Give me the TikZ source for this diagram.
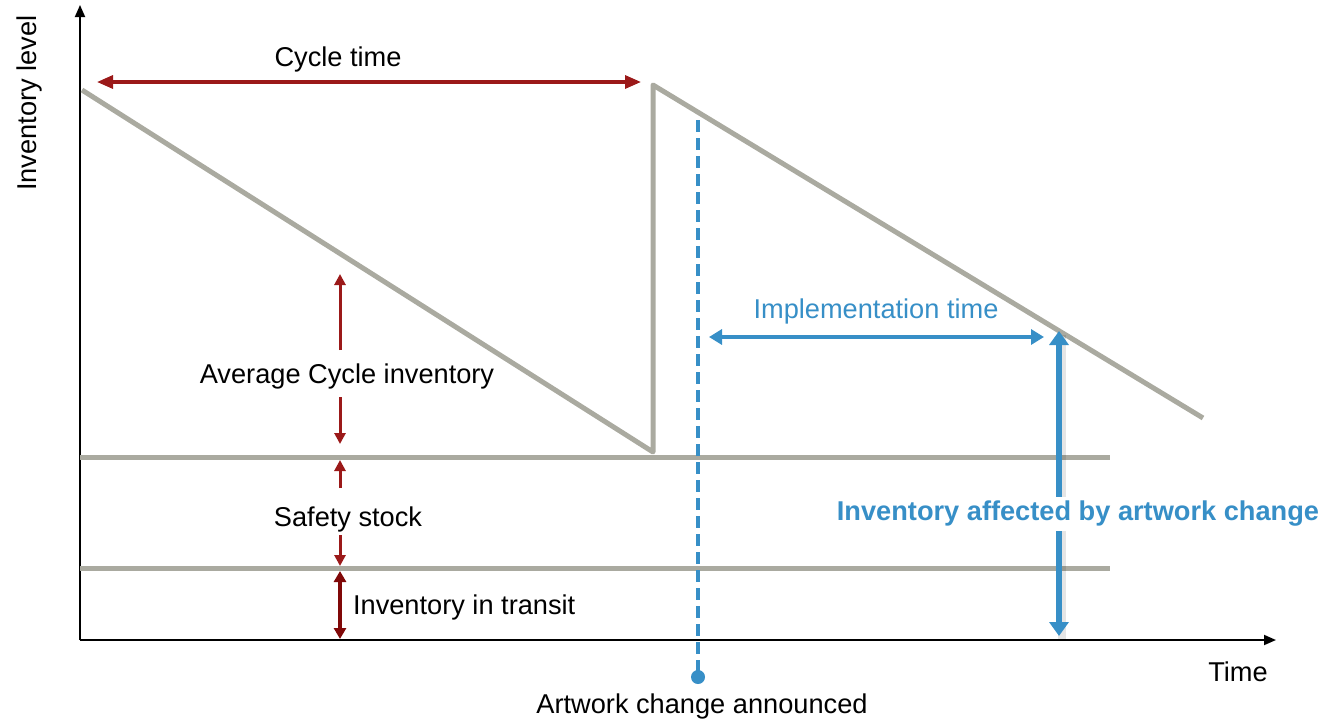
\documentclass[tikz,border=0pt]{standalone}
\usepackage{fontspec}
\setmainfont{Liberation Sans}
\usetikzlibrary{arrows.meta}
\definecolor{stockgray}{RGB}{170,170,160}
\definecolor{cyclered}{RGB}{155,25,25}
\definecolor{transitred}{RGB}{128,8,8}
\definecolor{artblue}{RGB}{55,143,199}
\tikzset{every node/.style={font=\fontsize{13.6pt}{16pt}\selectfont},
	axis/.style={black,line width=0.9pt,-{Triangle[length=6pt,width=5pt]}},
	stock/.style={stockgray,line width=2.5pt},
	cyclearrow/.style={cyclered,line width=1.6pt,{Triangle[length=8pt,width=6.5pt]}-{Triangle[length=8pt,width=6.5pt]}},
	smallred/.style={cyclered,line width=1.5pt,-{Triangle[length=5.5pt,width=5.5pt]}},
	transitarrow/.style={transitred,line width=1.8pt,{Triangle[length=5.5pt,width=6pt]}-{Triangle[length=5.5pt,width=6pt]}}}

\begin{document}
\begin{tikzpicture}[x=0.5pt,y=-0.5pt]
	\useasboundingbox (0,0) rectangle (1323,718);
	% axes
	\coordinate (origin) at (80,640);
	\coordinate (ytip) at (80,5);
	\coordinate (xtip) at (1276,640);
	\draw[axis] (origin) -- (ytip);
	\draw[axis] (origin) -- (xtip);
	\node[rotate=90] (ylabel) at (29,103) {Inventory level};
	\node (xlabel) at (1238,672) {Time};

	% inventory curve and stock levels
	\coordinate (start) at (82,90);
	\coordinate (low) at (653,452);
	\coordinate (peak) at (653,85);
	\coordinate (finish) at (1203,418);
	\draw[stock,line join=round] (start) -- (low) -- (peak) -- (finish);
	\coordinate (ss-l) at (80,457); \coordinate (ss-r) at (1110,457);
	\coordinate (tr-l) at (80,568); \coordinate (tr-r) at (1110,568);
	\draw[stock] (ss-l) -- (ss-r);
	\draw[stock] (tr-l) -- (tr-r);

	% cycle time
	\coordinate (ct-l) at (97,82); \coordinate (ct-r) at (641,82);
	\draw[cyclearrow] (ct-l) -- (ct-r);
	\node (cycletime) at (338,59) {Cycle time};

	% average cycle inventory
	\node (avgcycle) at (347,376) {Average Cycle inventory};
	\coordinate (avg-a) at (340,350); \coordinate (avg-top) at (340,274);
	\coordinate (avg-b) at (340,397); \coordinate (avg-bot) at (340,444);
	\draw[smallred] (avg-a) -- (avg-top);
	\draw[smallred] (avg-b) -- (avg-bot);

	% safety stock
	\node (safety) at (348,519) {Safety stock};
	\coordinate (ss-a) at (340,488); \coordinate (ss-top) at (340,460);
	\coordinate (ss-b) at (340,535); \coordinate (ss-bot) at (340,566);
	\draw[smallred] (ss-a) -- (ss-top);
	\draw[smallred] (ss-b) -- (ss-bot);

	% inventory in transit
	\coordinate (tr-top) at (340,571); \coordinate (tr-bot) at (340,639);
	\draw[transitarrow] (tr-top) -- (tr-bot);
	\node[anchor=west] (transit) at (346,607) {Inventory in transit};

	% artwork change
	\coordinate (ann-top) at (698,120); \coordinate (ann-dot) at (698,677);
	\draw[artblue,line width=1.8pt,dash pattern=on 6pt off 3pt] (ann-top) -- (ann-dot);
	\fill[artblue] (ann-dot) circle[radius=3.5pt];
	\node (announced) at (702,706) {Artwork change announced};

	% implementation time
	\coordinate (imp-l) at (709,337); \coordinate (imp-r) at (1044,337);
	\draw[artblue,line width=1.9pt,{Triangle[length=6.5pt,width=7.5pt]}-{Triangle[length=6.5pt,width=7.5pt]}] (imp-l) -- (imp-r);
	\node[text=artblue] (imptime) at (876,311) {Implementation time};

	% affected inventory
	\coordinate (aff-top) at (1059,331); \coordinate (aff-bot) at (1059,636);
	\draw[black,opacity=0.1,line width=4pt] ([shift={(3,4)}]aff-top) -- ([shift={(3,4)}]aff-bot);
	\draw[artblue,line width=2.6pt,{Triangle[length=7pt,width=9.5pt]}-{Triangle[length=7pt,width=9.5pt]}] (aff-top) -- (aff-bot);
	\node[text=artblue,fill=white,font=\fontsize{13.6pt}{16pt}\selectfont\bfseries,inner sep=2pt] (affected) at (1078,514) {Inventory affected by artwork change};
\end{tikzpicture}
\end{document}
